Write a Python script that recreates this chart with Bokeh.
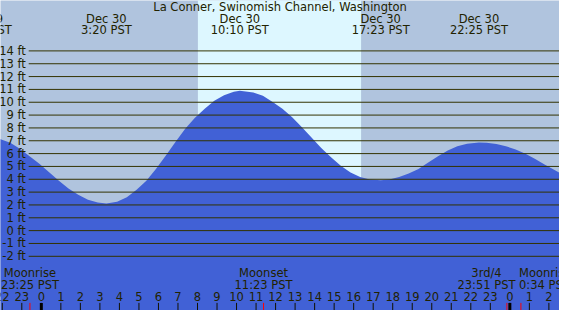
from bokeh.plotting import figure
from bokeh.models import Range1d, ColumnDataSource
from bokeh.core.properties import value
from bokeh.embed import file_html
from bokeh.resources import INLINE

# ---------------- data ----------------
title = "La Conner, Swinomish Channel, Washington"

# tide height (ft) at hour of Dec 30 (negative = Dec 29, >24 = Dec 31), read about every half hour
tide_hours = [-2.12, -2.09, -1.59, -1.10, -0.60, -0.10, 0.40, 0.90, 1.39, 1.89, 2.39, 2.89,
              3.333, 3.88, 4.38, 4.88, 5.38, 5.88, 6.37, 6.87, 7.37, 7.87, 8.37, 8.86,
              9.36, 9.86, 10.167, 10.86, 11.35, 11.85, 12.35, 12.85, 13.35, 13.84, 14.34,
              14.84, 15.34, 15.84, 16.33, 16.83, 17.383, 17.82, 18.33, 18.82, 19.32, 19.82,
              20.32, 20.82, 21.31, 21.81, 22.417, 22.81, 23.31, 23.80, 24.30, 24.80, 25.30,
              25.80, 26.29, 26.54, 26.6]
tide_ft = [7.14, 7.12, 6.85, 6.38, 5.8, 5.2, 4.55, 3.88, 3.28, 2.8, 2.4, 2.19,
           2.12, 2.25, 2.6, 3.18, 3.88, 4.82, 5.83, 6.9, 7.93, 8.8, 9.5, 10.12,
           10.55, 10.82, 10.89, 10.76, 10.5, 10.02, 9.5, 8.84, 8.05, 7.26, 6.44,
           5.72, 5.05, 4.52, 4.17, 3.98, 3.93, 3.99, 4.17, 4.45, 4.8, 5.3,
           5.8, 6.25, 6.57, 6.77, 6.86, 6.84, 6.75, 6.57, 6.32, 5.98, 5.58,
           5.13, 4.72, 4.5, 4.46]

# high / low tide events (top labels)
event_hours = [-3.0, 3.333, 10.167, 17.383, 22.417]
event_dates = ["Dec 29", "Dec 30", "Dec 30", "Dec 30", "Dec 30"]
event_times = ["21:02 PST", "3:20 PST", "10:10 PST", "17:23 PST", "22:25 PST"]

# daylight
sunrise_hour = 8.02
sunset_hour = 16.38

# moon events (bottom labels)
moon_hours = [-0.583, 11.383, 23.85, 24.567]
moon_names = ["Moonrise", "Moonset", "3rd/4", "Moonrise"]
moon_times = ["23:25 PST", "11:23 PST", "23:51 PST", "0:34 PST"]

# axis ticks
ft_ticks = list(range(-2, 15))
ft_labels = [f"{v} ft" for v in ft_ticks]
hour_ticks = list(range(-2, 27))
hour_labels = [str(h % 24) for h in hour_ticks]
midnight_hours = [0, 24]

# ---------------- layout helpers ----------------
W, H = 559, 310
PX_PER_HR = 20.08        # reference pixels per hour
PX_PER_FT = 13.5         # reference pixels per foot
X0_PX, Y0_PX = 42, 242   # reference pixel of hour 0 / 0 ft
REF_W, REF_H = 575, 326
S = W / REF_W

def X(px):
    return (px - X0_PX) / PX_PER_HR

def Y(py):
    return (Y0_PX - py) / PX_PER_FT

NIGHT = "#B0C4DE"
DAY = "#DDF7FF"
FILL = "#4161D6"
LINE = "#333300"
TEXT = "#222200"
FONT = value("DejaVu Sans")
FS = value("11.5px")

p = figure(width=W, height=H, output_backend="svg", toolbar_location=None,
           x_range=Range1d(X(0), X(REF_W)), y_range=Range1d(Y(REF_H), Y(0)),
           min_border=0, background_fill_color=NIGHT, border_fill_color=NIGHT,
           outline_line_color=None)
p.axis.visible = False
p.grid.visible = False

# daylight band
p.quad(left=[sunrise_hour], right=[sunset_hour], bottom=[Y(REF_H) - 5], top=[Y(0) + 5],
       fill_color=DAY, line_color=None)

# tide fill
p.varea(x=tide_hours, y1=[Y(REF_H) - 5] * len(tide_hours), y2=tide_ft, fill_color=FILL)

# horizontal ft lines
p.segment(x0=[X(29)] * len(ft_ticks), x1=[X(REF_W) + 1] * len(ft_ticks),
          y0=ft_ticks, y1=ft_ticks, line_color=LINE, line_width=1)
p.text(x=[X(26)] * len(ft_ticks), y=ft_ticks, text=ft_labels, text_align="right",
       text_baseline="middle", text_font=FONT, text_font_size=FS, text_color=TEXT)

# title and tide event labels
p.text(x=[X(REF_W / 2)], y=[Y(7)], text=[title], text_align="center",
       text_baseline="middle", text_font=FONT, text_font_size=FS, text_color=TEXT)
p.text(x=event_hours, y=[Y(19)] * len(event_hours), text=event_dates, text_align="center",
       text_baseline="middle", text_font=FONT, text_font_size=FS, text_color=TEXT)
p.text(x=event_hours, y=[Y(31)] * len(event_hours), text=event_times, text_align="center",
       text_baseline="middle", text_font=FONT, text_font_size=FS, text_color=TEXT)

# hour ticks and labels
bot = Y(REF_H) - 1
p.segment(x0=hour_ticks, x1=hour_ticks, y0=[Y(318)] * len(hour_ticks), y1=[bot] * len(hour_ticks),
          line_color="#111100", line_width=1)
p.segment(x0=midnight_hours, x1=midnight_hours, y0=[Y(318)] * 2, y1=[bot] * 2,
          line_color="#000000", line_width=3)
p.segment(x0=moon_hours, x1=moon_hours, y0=[Y(318)] * len(moon_hours), y1=[bot] * len(moon_hours),
          line_color="#FF0000", line_width=1)
p.text(x=hour_ticks, y=[Y(311.5)] * len(hour_ticks), text=hour_labels, text_align="center",
       text_baseline="middle", text_font=FONT, text_font_size=FS, text_color=TEXT)

# moon labels (last two nudged apart to avoid overlap, as in the original)
centered = ColumnDataSource(dict(x=moon_hours[:3], n=moon_names[:3], t=moon_times[:3],
                                 off=[0, 0, -21 * S]))
p.text(x="x", y=Y(287), text="n", x_offset="off", source=centered, text_align="center",
       text_baseline="middle", text_font=FONT, text_font_size=FS, text_color=TEXT)
p.text(x="x", y=Y(299), text="t", x_offset="off", source=centered, text_align="center",
       text_baseline="middle", text_font=FONT, text_font_size=FS, text_color=TEXT)
p.text(x=[moon_hours[3]], y=[Y(287)], text=[moon_names[3]], x_offset=-2 * S, text_align="left",
       text_baseline="middle", text_font=FONT, text_font_size=FS, text_color=TEXT)
p.text(x=[moon_hours[3]], y=[Y(299)], text=[moon_times[3]], x_offset=-2 * S, text_align="left",
       text_baseline="middle", text_font=FONT, text_font_size=FS, text_color=TEXT)

open("out.html", "w").write(file_html(p, INLINE))
